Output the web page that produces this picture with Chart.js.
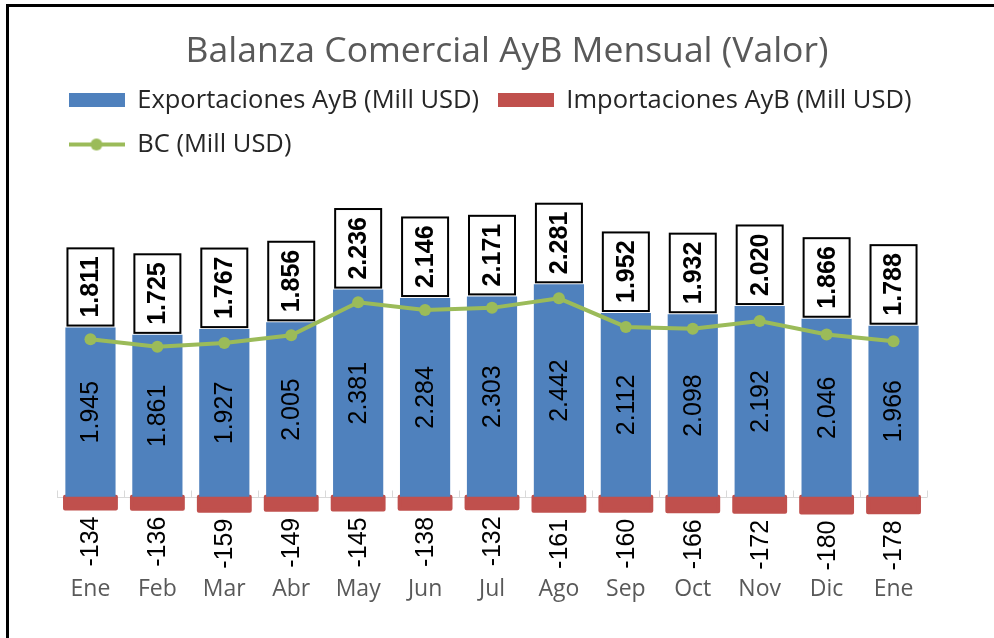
<!DOCTYPE html>
<html>
<head>
<meta charset="utf-8">
<script src="https://cdn.jsdelivr.net/npm/chart.js@4.4.1/dist/chart.umd.min.js"></script>
<style>
  html, body { margin: 0; padding: 0; background: #fff; }
  #wrap { position: relative; width: 994px; height: 638px; overflow: hidden; }
  #frame { position: absolute; left: 6px; top: 4px; right: 0; bottom: 0;
           border-top: 3px solid #000; border-left: 3px solid #000; pointer-events: none; }
  canvas { position: absolute; left: 0; top: 0; }
</style>
</head>
<body>
<div id="wrap">
  <canvas id="c" width="994" height="638"></canvas>
  <div id="frame"></div>
</div>
<script>
const categories = ['Ene','Feb','Mar','Abr','May','Jun','Jul','Ago','Sep','Oct','Nov','Dic','Ene'];
const exportaciones = [1945, 1861, 1927, 2005, 2381, 2284, 2303, 2442, 2112, 2098, 2192, 2046, 1966];
const importaciones = [-134, -136, -159, -149, -145, -138, -132, -161, -160, -166, -172, -180, -178];
const balanza = [1811, 1725, 1767, 1856, 2236, 2146, 2171, 2281, 1952, 1932, 2020, 1866, 1788];
const seriesNames = ['Exportaciones AyB (Mill USD)', 'Importaciones AyB (Mill USD)', 'BC (Mill USD)'];
const chartTitle = 'Balanza Comercial AyB Mensual (Valor)';

const BLUE = '#4F81BD', RED = '#C0504D', GREEN = '#9BBB59';

function fmtNum(v) {
  const neg = v < 0;
  const s = String(Math.abs(v)).replace(/\B(?=(\d{3})+(?!\d))/g, '.');
  return (neg ? '-' : '') + s;
}

function legendImg(kind) {
  const c = document.createElement('canvas');
  c.width = 56; c.height = 14;
  const g = c.getContext('2d');
  if (kind === 'line') {
    g.strokeStyle = GREEN; g.lineWidth = 4;
    g.beginPath(); g.moveTo(0, 7); g.lineTo(56, 7); g.stroke();
    g.fillStyle = GREEN; g.beginPath(); g.arc(28, 7, 6, 0, Math.PI * 2); g.fill();
  } else {
    g.fillStyle = kind === 'blue' ? BLUE : RED;
    g.fillRect(0, 0, 56, 14);
  }
  return c;
}
const legendImgs = [legendImg('blue'), legendImg('red'), legendImg('line')];

const decorPlugin = {
  id: 'decor',
  beforeDatasetsDraw(chart) {
    const ctx = chart.ctx, ca = chart.chartArea;
    const xs = chart.scales.x, ys = chart.scales.y;
    const y0 = Math.round(ys.getPixelForValue(0)) + 0.5;
    ctx.save();
    ctx.strokeStyle = '#D9D9D9'; ctx.lineWidth = 1;
    ctx.beginPath(); ctx.moveTo(ca.left, y0); ctx.lineTo(ca.right, y0); ctx.stroke();
    for (let i = 0; i <= categories.length; i++) {
      const xp = Math.round(xs.getPixelForValue(i - 0.5)) + 0.5;
      ctx.beginPath(); ctx.moveTo(xp, y0 - 7); ctx.lineTo(xp, y0); ctx.stroke();
    }
    ctx.restore();
  },
  afterDatasetDraw(chart, args) {
    if (args.index !== 1) return;
    const ctx = chart.ctx;
    ctx.save();
    ctx.strokeStyle = RED; ctx.lineWidth = 4; ctx.lineJoin = 'round';
    args.meta.data.forEach(el => {
      const p = el.getProps(['x', 'y', 'base', 'width'], true);
      const top = Math.min(p.y, p.base), h = Math.abs(p.y - p.base);
      ctx.strokeRect(p.x - p.width / 2, top, p.width, h);
    });
    ctx.restore();
  },
  afterDatasetsDraw(chart) {
    const ctx = chart.ctx;
    const mExp = chart.getDatasetMeta(0), mImp = chart.getDatasetMeta(1);
    ctx.save();
    ctx.font = '25px "Liberation Sans", Arial, sans-serif';
    ctx.fillStyle = '#000';
    mExp.data.forEach((el, i) => {
      const p = el.getProps(['x', 'y', 'base'], true);
      ctx.save();
      ctx.translate(p.x, (p.y + p.base) / 2);
      ctx.rotate(-Math.PI / 2);
      ctx.textAlign = 'center'; ctx.textBaseline = 'middle';
      ctx.fillText(fmtNum(exportaciones[i]), 0, 1);
      ctx.restore();
    });
    mImp.data.forEach((el, i) => {
      const p = el.getProps(['x', 'y', 'base'], true);
      const bottom = Math.max(p.y, p.base) + 8;
      ctx.save();
      ctx.translate(p.x, bottom);
      ctx.rotate(-Math.PI / 2);
      ctx.textAlign = 'right'; ctx.textBaseline = 'middle';
      ctx.fillText(fmtNum(importaciones[i]), 0, 1);
      ctx.restore();
    });
    ctx.font = 'bold 25px "Liberation Sans", Arial, sans-serif';
    mExp.data.forEach((el, i) => {
      const p = el.getProps(['x', 'y'], true);
      const txt = fmtNum(balanza[i]);
      const tw = ctx.measureText(txt).width;
      const L = tw + 16, W = 46;
      const bottom = p.y - 2;
      ctx.fillStyle = '#fff';
      ctx.fillRect(p.x - W / 2, bottom - L, W, L);
      ctx.strokeStyle = '#000'; ctx.lineWidth = 2;
      ctx.strokeRect(p.x - W / 2, bottom - L, W, L);
      ctx.save();
      ctx.translate(p.x, bottom - L / 2);
      ctx.rotate(-Math.PI / 2);
      ctx.fillStyle = '#000';
      ctx.textAlign = 'center'; ctx.textBaseline = 'middle';
      ctx.fillText(txt, 0, 1);
      ctx.restore();
    });
    ctx.restore();
  }
};

new Chart(document.getElementById('c'), {
  data: {
    labels: categories,
    datasets: [
      { type: 'bar', label: seriesNames[0], data: exportaciones, backgroundColor: BLUE,
        categoryPercentage: 1, barPercentage: 0.75, order: 0 },
      { type: 'bar', label: seriesNames[1], data: importaciones, backgroundColor: RED,
        categoryPercentage: 1, barPercentage: 0.76, order: 0 },
      { type: 'line', label: seriesNames[2], data: balanza, stack: 'bc', borderColor: GREEN,
        backgroundColor: GREEN, borderWidth: 4, pointRadius: 6, pointBorderWidth: 0,
        pointBackgroundColor: GREEN, tension: 0, order: -1 }
    ]
  },
  options: {
    responsive: false,
    devicePixelRatio: 1,
    animation: false,
    layout: { padding: { top: 10, left: 50, right: 30, bottom: 30 } },
    plugins: {
      tooltip: { enabled: false },
      title: {
        display: true, text: chartTitle, color: '#595959',
        font: { family: '"Open Sans", sans-serif', size: 35.5, weight: 'normal', lineHeight: 1.0 },
        padding: { top: 23.7, bottom: 0 }
      },
      legend: {
        display: true, position: 'top', align: 'start',
        labels: {
          usePointStyle: true, pointStyleWidth: 56, boxHeight: 14, padding: 18.5,
          color: '#262626',
          font: { family: '"Open Sans", sans-serif', size: 25.5 },
          sort: (a, b) => a.datasetIndex - b.datasetIndex,
          generateLabels: (chart) => {
            const items = Chart.defaults.plugins.legend.labels.generateLabels(chart);
            items.forEach(it => { it.pointStyle = legendImgs[it.datasetIndex]; });
            return items;
          }
        }
      }
    },
    scales: {
      x: {
        stacked: true,
        grid: { display: false, drawTicks: false },
        border: { display: false },
        ticks: { color: '#595959', padding: 5,
                 font: { family: '"Open Sans", sans-serif', size: 23, lineHeight: 1.2 } }
      },
      y: {
        stacked: true, min: -845, max: 3787,
        display: true,
        grid: { display: false, drawTicks: false },
        border: { display: false },
        ticks: { display: false },
        afterFit: (s) => { s.width = 7; }
      },
      y2: {
        position: 'right', display: true,
        grid: { display: false, drawTicks: false },
        border: { display: false },
        ticks: { display: false },
        afterFit: (s) => { s.width = 37; }
      }
    }
  },
  plugins: [decorPlugin]
});
</script>
</body>
</html>
